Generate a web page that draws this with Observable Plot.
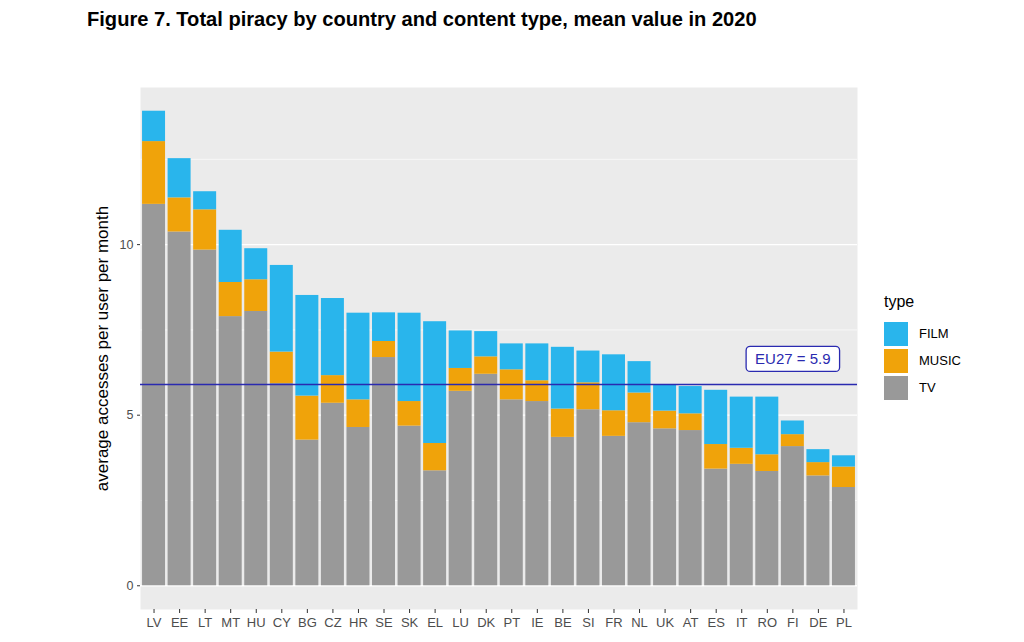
<!DOCTYPE html>
<html><head><meta charset="utf-8">
<script src="https://cdn.jsdelivr.net/npm/d3@7"></script>
<script src="https://cdn.jsdelivr.net/npm/@observablehq/plot@0.6"></script>
<style>
body{margin:0;background:#fff;font-family:"Liberation Sans",Arial,sans-serif;}
#wrap{position:relative;width:1024px;height:642px;overflow:hidden;}
#title{position:absolute;left:87px;top:8px;font-weight:bold;font-size:20.1px;color:#000;white-space:nowrap;}
#chart{position:absolute;left:0;top:40px;}
#legend{position:absolute;left:884px;top:293px;font-family:"Liberation Sans",Arial,sans-serif;}
#legend .lt{font-size:16px;color:#000;margin-bottom:9px;line-height:18px;}
#legend .row{display:flex;align-items:center;height:27px;}
#legend .sw{width:24px;height:24px;margin-right:11px;}
#legend .lb{font-size:13px;color:#000;}
</style></head><body>
<div id="wrap">
<div id="title">Figure 7. Total piracy by country and content type, mean value in 2020</div>
<div id="chart"></div>
<div id="legend"></div>
</div>
<script>
const countries = ["LV","EE","LT","MT","HU","CY","BG","CZ","HR","SE","SK","EL","LU","DK","PT","IE","BE","SI","FR","NL","UK","AT","ES","IT","RO","FI","DE","PL"];
const tv    = [11.18,10.37,9.84,7.89,8.04,5.93,4.27,5.35,4.64,6.69,4.68,3.37,5.70,6.20,5.45,5.40,4.35,5.16,4.38,4.78,4.60,4.55,3.42,3.56,3.35,4.08,3.22,2.88];
const music = [1.84,1.00,1.18,1.00,0.93,0.92,1.29,0.81,0.81,0.47,0.72,0.80,0.67,0.51,0.88,0.61,0.83,0.79,0.75,0.87,0.52,0.49,0.72,0.47,0.49,0.35,0.39,0.60];
const film  = [0.89,1.15,0.53,1.53,0.91,2.54,2.95,2.26,2.54,0.84,2.59,3.57,1.10,0.74,0.76,1.08,1.81,0.93,1.64,0.92,0.78,0.80,1.59,1.50,1.69,0.40,0.38,0.33];
const types = ["FILM","MUSIC","TV"];
const typeColors = ["#29B5EC","#F0A30A","#999999"];
const eu27 = 5.9;
const eu27Label = "EU27 = 5.9";
const majorTicks = [0,5,10];
const minorTicks = [2.5,7.5,12.5];
const yLabel = "average accesses per user per month";

const data = [];
countries.forEach((c,i)=>{
  data.push({country:c,type:"TV",value:tv[i]});
  data.push({country:c,type:"MUSIC",value:music[i]});
  data.push({country:c,type:"FILM",value:film[i]});
});
const maxTotal = d3.max(countries,(c,i)=>tv[i]+music[i]+film[i]);
const pad = maxTotal*0.05;

const plot = Plot.plot({
  width:1024, height:602,
  marginLeft:140, marginRight:167, marginTop:47, marginBottom:33,
  style:{fontFamily:"'Liberation Sans', Arial, sans-serif", background:"transparent"},
  x:{domain:countries, paddingInner:0.1, paddingOuter:0.08, round:false, label:null},
  y:{domain:[-pad, maxTotal+pad], label:null},
  color:{domain:types, range:typeColors},
  marks:[
    Plot.frame({fill:"#EBEBEB", stroke:null}),
    Plot.ruleY(minorTicks,{stroke:"#fff", strokeWidth:0.6}),
    Plot.ruleY(majorTicks,{stroke:"#fff", strokeWidth:1.3}),
    Plot.barY(data, Plot.stackY({x:"country", y:"value", fill:"type", order:["TV","MUSIC","FILM"]})),
    Plot.ruleY([eu27],{stroke:"#2A2AB0", strokeWidth:1.6}),
    Plot.text([eu27Label],{x:()=>"FI", y:()=>eu27+0.73, text:d=>d, fill:"#2A2AB0", fontSize:15, className:"eulabel"}),
    Plot.axisY({ticks:majorTicks, tickSize:3, tickPadding:4, fontSize:12.5, fill:"#4D4D4D", stroke:"#333", label:yLabel, labelAnchor:"center", labelArrow:"none", labelOffset:45}),
    Plot.axisX({tickSize:4, tickPadding:4, fontSize:13, fill:"#4D4D4D", stroke:"#333", label:null})
  ]
});
document.getElementById("chart").appendChild(plot);

// y-axis label styling
d3.select(plot).selectAll("[aria-label='y-axis label'] text").attr("fill","#000").style("font-size","17px");

// box around EU27 label
d3.select(plot).selectAll(".eulabel text").each(function(){
  const bb = this.getBBox();
  d3.select(this.parentNode).insert("rect", () => this)
    .attr("transform", this.getAttribute("transform"))
    .attr("x", bb.x-9).attr("y", bb.y-4).attr("width", bb.width+18).attr("height", bb.height+8)
    .attr("rx",4).attr("fill","#fff").attr("stroke","#2A2AB0").attr("stroke-width",1.3);
});

// legend
const lg = d3.select("#legend");
lg.append("div").attr("class","lt").text("type");
types.forEach((t,i)=>{
  const r = lg.append("div").attr("class","row");
  r.append("div").attr("class","sw").style("background",typeColors[i]);
  r.append("div").attr("class","lb").text(t);
});
</script>
</body></html>
